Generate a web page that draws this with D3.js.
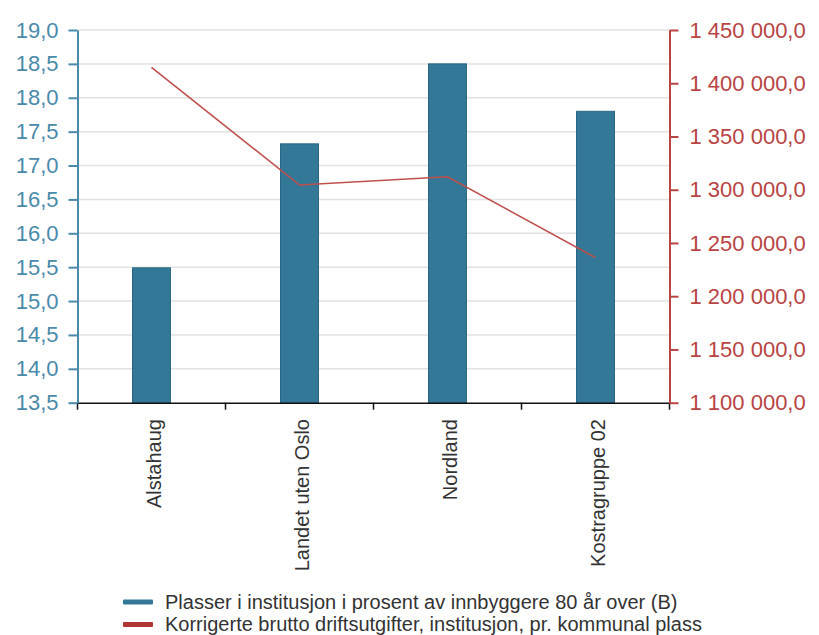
<!DOCTYPE html>
<html>
<head>
<meta charset="utf-8">
<script src="https://cdn.jsdelivr.net/npm/d3@7"></script>
<style>
html,body{margin:0;padding:0;background:#fff;}
svg{display:block;font-family:"Liberation Sans",Arial,sans-serif;}
</style>
</head>
<body>
<svg id="chart" width="819" height="635"></svg>
<script>
const categories = ["Alstahaug", "Landet uten Oslo", "Nordland", "Kostragruppe 02"];
const barValues = [15.49, 17.32, 18.5, 17.8];
const lineValues = [1415000, 1304400, 1312200, 1236200];
const leftTicks = [13.5, 14.0, 14.5, 15.0, 15.5, 16.0, 16.5, 17.0, 17.5, 18.0, 18.5, 19.0];
const rightTicks = [1100000, 1150000, 1200000, 1250000, 1300000, 1350000, 1400000, 1450000];
const seriesNames = [
  "Plasser i institusjon i prosent av innbyggere 80 år over (B)",
  "Korrigerte brutto driftsutgifter, institusjon, pr. kommunal plass"
];

(function () {
const colBar = "#337896", colBarStroke = "#2a6784";
const colLine = "#bf4f4c", colLegendRed = "#b03636";
const colLeftAxis = "#4a8aaa", colRightAxis = "#b84444";

const svg = d3.select("#chart");
const mLeft = 77.5, mRight = 669.5, mTop = 30, mBottom = 402.7;

const x = d3.scaleBand().domain(categories).range([mLeft, mRight]).paddingInner(0).paddingOuter(0);
const y1 = d3.scaleLinear().domain([13.5, 19]).range([mBottom, mTop]);
const y2 = d3.scaleLinear().domain([1100000, 1450000]).range([mBottom, mTop]);

const nb = d3.formatLocale({decimal: ",", thousands: "\u00a0", grouping: [3], currency: ["", ""]});
const fLeft = nb.format(".1f");
const fRight = nb.format(",.1f");

// gridlines
svg.append("g").selectAll("line").data(leftTicks.slice(1)).join("line")
  .attr("x1", mLeft).attr("x2", mRight)
  .attr("y1", d => y1(d)).attr("y2", d => y1(d))
  .attr("stroke", "#e2e2e2").attr("stroke-width", 1.5);

// bars
const bw = 38;
svg.append("g").selectAll("rect").data(categories).join("rect")
  .attr("x", d => x(d) + x.bandwidth() / 2 - bw / 2)
  .attr("width", bw)
  .attr("y", (d, i) => y1(barValues[i]))
  .attr("height", (d, i) => mBottom - y1(barValues[i]))
  .attr("fill", colBar).attr("stroke", colBarStroke).attr("stroke-width", 1);

// line
const line = d3.line().x((d, i) => x(categories[i]) + x.bandwidth() / 2).y(d => y2(d));
svg.append("path").datum(lineValues).attr("d", line)
  .attr("fill", "none").attr("stroke", colLine).attr("stroke-width", 1.6);

// x axis
const xAxis = svg.append("g").attr("transform", `translate(0,${mBottom})`)
  .call(d3.axisBottom(x).tickSize(0).tickFormat(""));
xAxis.select(".domain").attr("stroke", "#111").attr("stroke-width", 1.5);
const bounds = [mLeft].concat(categories.map(c => x(c) + x.bandwidth()));
xAxis.selectAll("line.sep").data(bounds).join("line").attr("class", "sep")
  .attr("x1", d => d).attr("x2", d => d).attr("y1", 0).attr("y2", 7)
  .attr("stroke", "#111").attr("stroke-width", 1.5);
svg.append("g").selectAll("text").data(categories).join("text")
  .attr("transform", d => `translate(${x(d) + x.bandwidth() / 2 + 9.5},419) rotate(-90)`)
  .attr("text-anchor", "end")
  .attr("font-size", 20).attr("fill", "#333")
  .text(d => d);

// left axis
const la = svg.append("g").attr("transform", `translate(${mLeft},0)`)
  .call(d3.axisLeft(y1).tickValues(leftTicks).tickFormat(fLeft).tickSize(9).tickSizeOuter(0).tickPadding(10));
la.select(".domain").attr("stroke", colLeftAxis).attr("stroke-width", 2);
la.selectAll(".tick line").attr("stroke", colLeftAxis).attr("stroke-width", 2);
la.selectAll(".tick text").attr("fill", colLeftAxis).attr("font-size", 22).attr("font-family", "Liberation Sans, Arial, sans-serif");

// right axis
const ra = svg.append("g").attr("transform", `translate(${mRight},0)`)
  .call(d3.axisRight(y2).tickValues(rightTicks).tickFormat(fRight).tickSize(9).tickSizeOuter(0).tickPadding(11));
ra.select(".domain").attr("stroke", colRightAxis).attr("stroke-width", 2);
ra.selectAll(".tick line").attr("stroke", colRightAxis).attr("stroke-width", 2);
ra.selectAll(".tick text").attr("fill", colRightAxis).attr("font-size", 22).attr("font-family", "Liberation Sans, Arial, sans-serif");

// legend
const legendColors = [colBar, colLegendRed];
const lg = svg.append("g");
seriesNames.forEach((name, i) => {
  const yy = 602 + i * 22.5;
  lg.append("rect").attr("x", 123).attr("y", yy - 2.5).attr("width", 30).attr("height", 5)
    .attr("rx", 1).attr("fill", legendColors[i]);
  lg.append("text").attr("x", 165).attr("y", yy + 6.8).attr("font-size", 20)
    .attr("fill", "#333").text(name);
});
})();
</script>
</body>
</html>
